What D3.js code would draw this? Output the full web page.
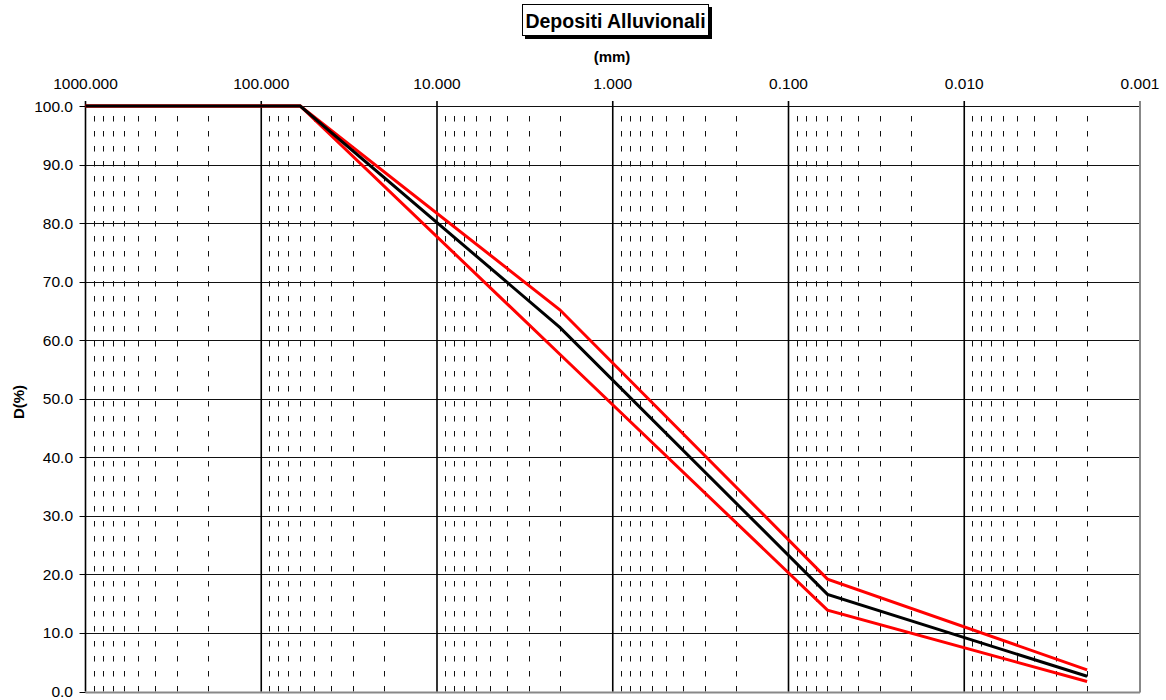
<!DOCTYPE html>
<html>
<head>
<meta charset="utf-8">
<script src="https://cdn.jsdelivr.net/npm/d3@7"></script>
<style>
  html, body { margin: 0; padding: 0; background: #fff; }
  svg { display: block; font-family: "Liberation Sans", Arial, sans-serif; }
</style>
</head>
<body>
<svg id="chart" width="1166" height="700"></svg>
<script>
// Grain size (mm) of each point of the grading curves
const sizes = [1000, 60, 2, 0.06, 0.002];
// Passing percentages: upper envelope, mean curve, lower envelope
const upperPct = [100, 100, 65.2, 19.2, 3.7];
const meanPct  = [100, 100, 62.2, 16.6, 2.6];
const lowerPct = [100, 100, 57.6, 13.9, 1.7];

// Axis tick values and labels
const decadeTicks = [1000, 100, 10, 1, 0.1, 0.01, 0.001];
const decadeLabels = ["1000.000", "100.000", "10.000", "1.000", "0.100", "0.010", "0.001"];
const pctTicks = [0, 10, 20, 30, 40, 50, 60, 70, 80, 90, 100];

const titleText = "Depositi Alluvionali";
const xTitle = "(mm)";
const yTitle = "D(%)";

const svg = d3.select("#chart");
const plotLeft = 85.5, plotRight = 1140, plotTop = 106, plotBottom = 691.5;

const x = d3.scaleLog().domain([1000, 0.001]).range([plotLeft, plotRight]);
const y = d3.scaleLinear().domain([0, 100]).range([plotBottom, plotTop]);

// Minor grid values: 2..9 times each decade
const minorVals = [];
[100, 10, 1, 0.1, 0.01, 0.001].forEach(d => {
  for (let k = 2; k <= 9; k++) minorVals.push(+(d * k).toPrecision(3));
});

const grid = svg.append("g");

// dashed minor verticals, pattern starts from the bottom edge
grid.selectAll("line.minor").data(minorVals).join("line")
  .attr("class", "minor")
  .attr("x1", d => Math.round(x(d)) + 0.5).attr("x2", d => Math.round(x(d)) + 0.5)
  .attr("y1", plotBottom).attr("y2", plotTop)
  .attr("stroke", "#111").attr("stroke-width", 1)
  .attr("stroke-dasharray", "5.5,9.5");

// horizontal gridlines
grid.selectAll("line.h").data(pctTicks).join("line")
  .attr("class", "h")
  .attr("x1", plotLeft).attr("x2", plotRight)
  .attr("y1", d => Math.round(y(d)) + 0.5).attr("y2", d => Math.round(y(d)) + 0.5)
  .attr("stroke", d => d === 0 ? "#888" : "#111").attr("stroke-width", d => d === 0 ? 2 : 1);

// decade verticals
grid.selectAll("line.major").data(decadeTicks.slice(0, -1)).join("line")
  .attr("class", "major")
  .attr("x1", d => x(d)).attr("x2", d => x(d))
  .attr("y1", plotBottom).attr("y2", plotTop - 5)
  .attr("stroke", "#000").attr("stroke-width", 1.6);

// right border of the plot area
grid.append("line")
  .attr("x1", plotRight).attr("x2", plotRight).attr("y1", plotBottom + 1).attr("y2", plotTop - 5)
  .attr("stroke", "#888").attr("stroke-width", 2);

// top axis labels
svg.append("g").selectAll("text").data(decadeTicks).join("text")
  .attr("x", d => x(d)).attr("y", 89)
  .attr("text-anchor", "middle").attr("font-size", 15.5).attr("fill", "#000")
  .text((d, i) => decadeLabels[i]);

// left axis ticks and labels
const yAxis = svg.append("g");
yAxis.selectAll("line").data(pctTicks).join("line")
  .attr("x1", plotLeft - 6).attr("x2", plotLeft)
  .attr("y1", d => Math.round(y(d)) + 0.5).attr("y2", d => Math.round(y(d)) + 0.5)
  .attr("stroke", "#000");
yAxis.selectAll("text").data(pctTicks).join("text")
  .attr("x", 73).attr("y", d => y(d) + 5.5)
  .attr("text-anchor", "end").attr("font-size", 15.5).attr("fill", "#000")
  .text(d => d.toFixed(1));

// grading curves: red envelopes under the black mean curve
const line = d3.line().x(d => x(d[0])).y(d => y(d[1]));
const curves = [
  { vals: upperPct, color: "#ff0000" },
  { vals: lowerPct, color: "#ff0000" },
  { vals: meanPct, color: "#000000" }
];
curves.forEach(c => {
  svg.append("path")
    .datum(sizes.map((s, i) => [s, c.vals[i]]))
    .attr("d", line)
    .attr("fill", "none")
    .attr("stroke", c.color)
    .attr("stroke-width", 3)
    .attr("stroke-linejoin", "miter");
});

// axis titles
svg.append("text")
  .attr("x", 612).attr("y", 62)
  .attr("text-anchor", "middle").attr("font-size", 15).attr("font-weight", "bold")
  .text(xTitle);
svg.append("text")
  .attr("transform", "translate(24,402) rotate(-90)")
  .attr("text-anchor", "middle").attr("font-size", 15).attr("font-weight", "bold")
  .text(yTitle);

// boxed chart title with drop shadow
const tb = svg.append("g");
tb.append("rect").attr("x", 525).attr("y", 7).attr("width", 187).attr("height", 32).attr("fill", "#000");
tb.append("rect").attr("x", 522.5).attr("y", 4.5).attr("width", 186).attr("height", 31)
  .attr("fill", "#fff").attr("stroke", "#000").attr("stroke-width", 1);
tb.append("text")
  .attr("x", 615.5).attr("y", 27.5)
  .attr("text-anchor", "middle").attr("font-size", 19.5).attr("font-weight", "bold")
  .text(titleText);
</script>
</body>
</html>
